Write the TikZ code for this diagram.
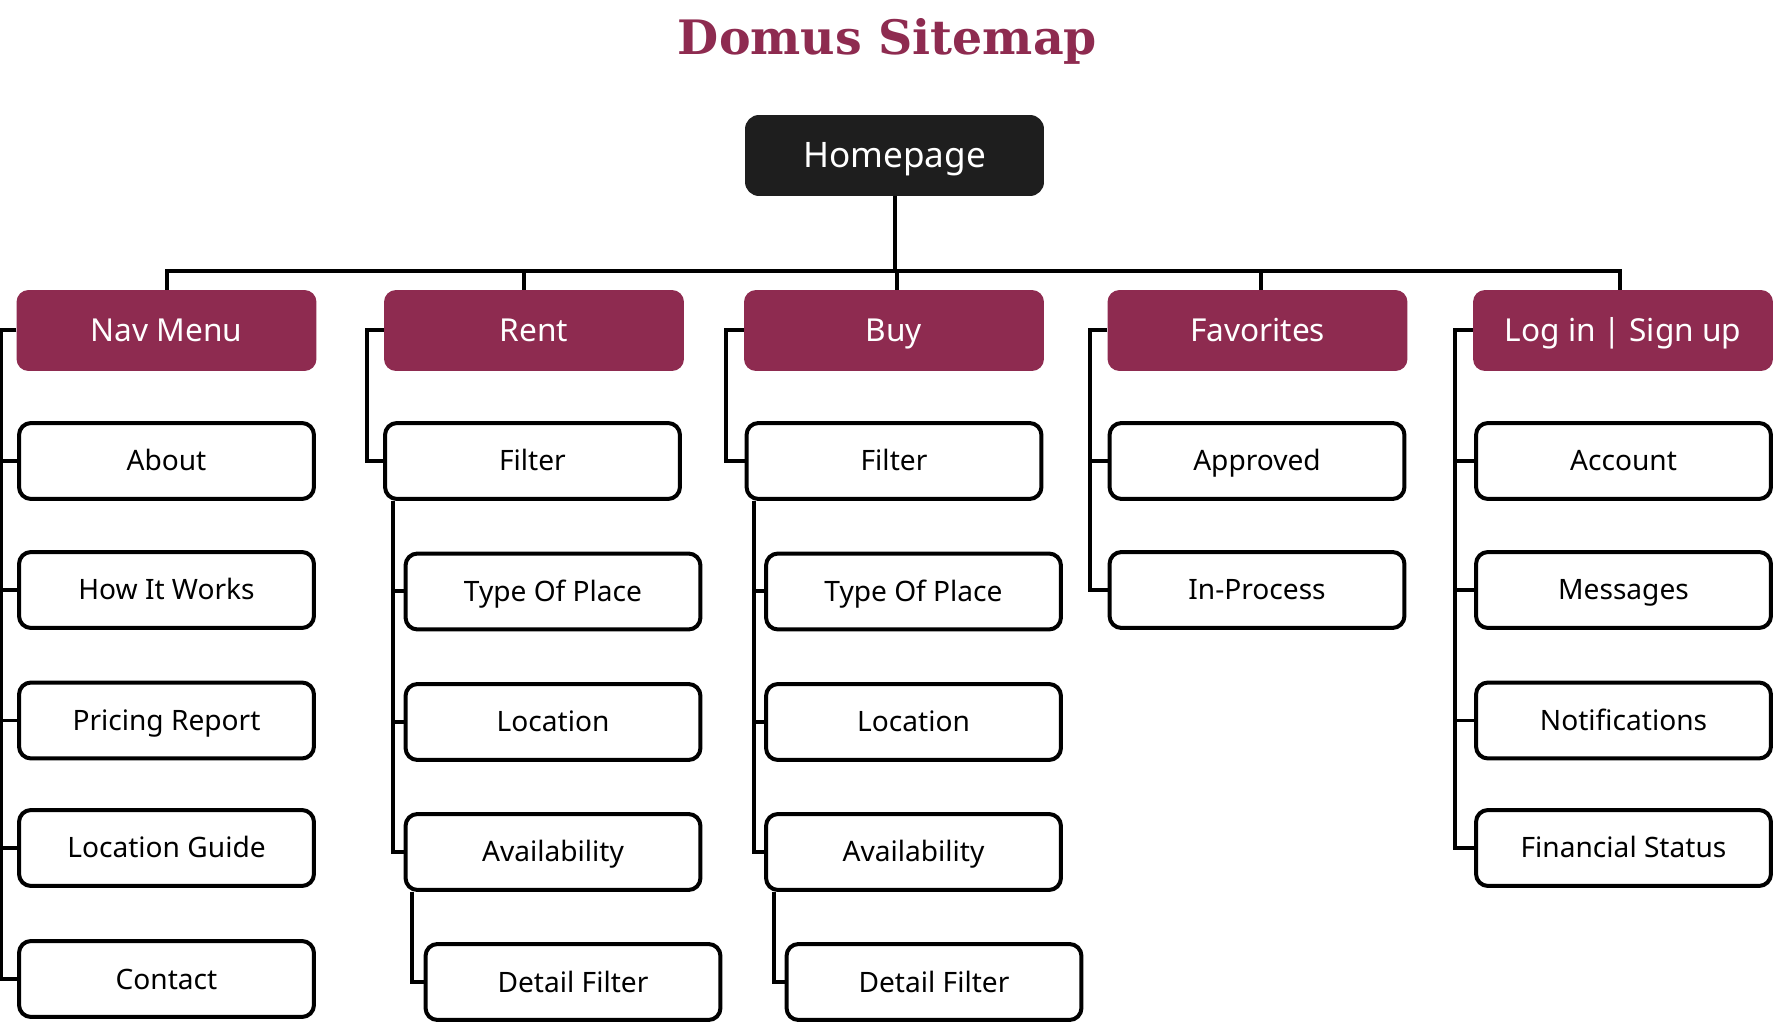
\documentclass[tikz,border=0pt]{standalone}
\usepackage{fontspec}
\setmainfont{Noto Sans}
\newfontfamily\titlefont{DejaVu Serif}
\usepackage{tikz}
\usetikzlibrary{calc}
\definecolor{domus}{RGB}{142,43,80}
\definecolor{homeblack}{RGB}{30,30,30}

\begin{document}
\begin{tikzpicture}[x = 0.02cm, y = -0.02cm,
  homebox/.style = {fill = homeblack, text = white, rounded corners = 0.28cm,
    minimum width = 5.98cm, minimum height = 1.62cm, text height = 0.5cm, text depth = 0pt,
    font = \fontsize{20}{24}\selectfont},
  sectionbox/.style = {fill = domus, text = white, rounded corners = 0.24cm,
    minimum width = 6cm, minimum height = 1.62cm, text height = 0.46cm, text depth = 0pt,
    font = \fontsize{18}{22}\selectfont},
  pagebox/.style = {draw, fill = white, line width = 0.08cm, rounded corners = 0.24cm,
    minimum width = 5.9cm, minimum height = 1.52cm, text height = 0.4cm, text depth = 0pt,
    font = \fontsize{16}{19}\selectfont},
  wire/.style = {line width = 0.08cm}]
  \useasboundingbox (0, 0) rectangle (1775, 1026);
  \node[text = domus, text height = 0.74cm, text depth = 0pt,
    font = \titlefont\bfseries\fontsize{27}{32}\selectfont] at (887.5, 36.5) (title) {Domus Sitemap};
  \node[homebox] at (894.5, 155.5) (home) {Homepage};
  \node[sectionbox] at (166.5, 330.5) (nav) {Nav Menu};
  \node[sectionbox] at (534, 330.5) (rent) {Rent};
  \node[sectionbox] at (894, 330.5) (buy) {Buy};
  \node[sectionbox] at (1257.5, 330.5) (fav) {Favorites};
  \node[sectionbox] at (1623, 330.5) (login) {Log in | Sign up};
  \node[pagebox] at (166.5, 461) (about) {About};
  \node[pagebox] at (166.5, 590) (howitworks) {How It Works};
  \node[pagebox] at (166.5, 720.5) (pricing) {Pricing Report};
  \node[pagebox] at (166.5, 848) (guide) {Location Guide};
  \node[pagebox] at (166.5, 979) (contact) {Contact};
  \node[pagebox] at (532.5, 461) (rfilter) {Filter};
  \node[pagebox] at (553, 591.5) (rtype) {Type Of Place};
  \node[pagebox] at (553, 722) (rlocation) {Location};
  \node[pagebox] at (553, 852) (ravail) {Availability};
  \node[pagebox] at (573, 982) (rdetail) {Detail Filter};
  \node[pagebox] at (894, 461) (bfilter) {Filter};
  \node[pagebox] at (913.5, 591.5) (btype) {Type Of Place};
  \node[pagebox] at (913.5, 722) (blocation) {Location};
  \node[pagebox] at (913.5, 852) (bavail) {Availability};
  \node[pagebox] at (934, 982) (bdetail) {Detail Filter};
  \node[pagebox] at (1257, 461) (approved) {Approved};
  \node[pagebox] at (1257, 590) (inprocess) {In-Process};
  \node[pagebox] at (1623.5, 461) (account) {Account};
  \node[pagebox] at (1623.5, 590) (messages) {Messages};
  \node[pagebox] at (1623.5, 720.5) (notes) {Notifications};
  \node[pagebox] at (1623.5, 848) (finance) {Financial Status};
  \draw[wire] (home.south) -- ++(0, 75) -| (nav.north);
  \draw[wire] (home.south) -- ++(0, 75) -| ($(rent.north) + (-10, 0)$);
  \draw[wire] (home.south) -- ++(0, 75) -| ($(buy.north) + (3, 0)$);
  \draw[wire] (home.south) -- ++(0, 75) -| ($(fav.north) + (3.5, 0)$);
  \draw[wire] (home.south) -- ++(0, 75) -| ($(login.north) + (-3, 0)$);
  \foreach \n in {about, howitworks, pricing, guide, contact}
  {
  \draw[wire] (nav.west) -- ++(-15, 0) |- (\n.west);
  }
  \draw[wire] (rent.west) -- ++(-17, 0) |- (rfilter.west);
  \foreach \n in {rtype, rlocation, ravail}
  {
  \draw[wire] (rfilter.south west) ++(10, 0) |- (\n.west);
  }
  \draw[wire] (ravail.south west) ++(8, 0) |- (rdetail.west);
  \draw[wire] (buy.west) -- ++(-18, 0) |- (bfilter.west);
  \foreach \n in {btype, blocation, bavail}
  {
  \draw[wire] (bfilter.south west) ++(9, 0) |- (\n.west);
  }
  \draw[wire] (bavail.south west) ++(10, 0) |- (bdetail.west);
  \foreach \n in {approved, inprocess}
  {
  \draw[wire] (fav.west) -- ++(-17.5, 0) |- (\n.west);
  }
  \foreach \n in {account, messages, notes, finance}
  {
  \draw[wire] (login.west) -- ++(-18, 0) |- (\n.west);
  }
\end{tikzpicture}
\end{document}
